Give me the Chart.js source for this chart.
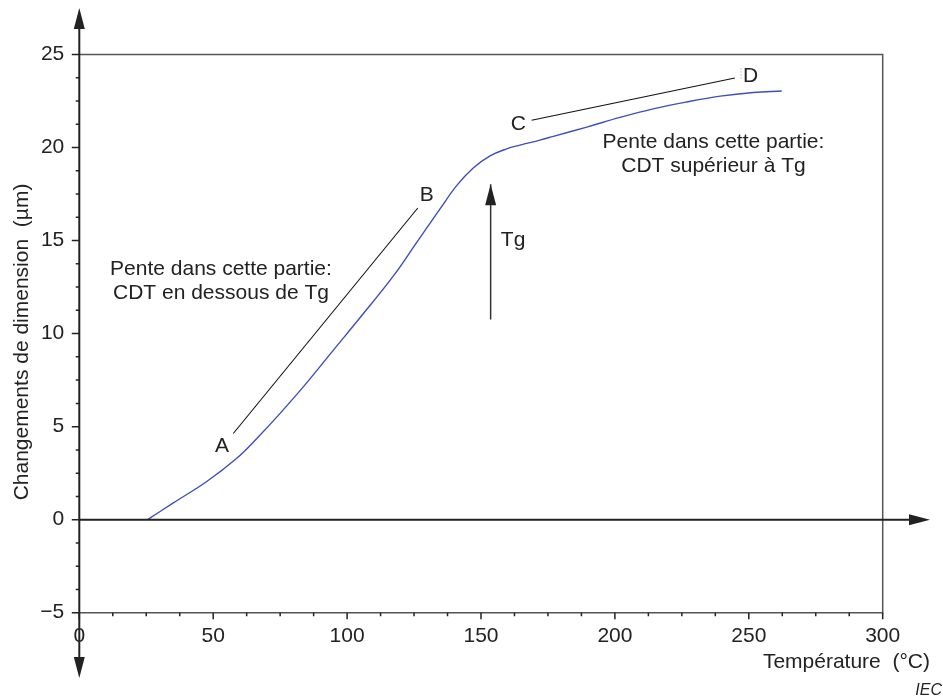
<!DOCTYPE html>
<html>
<head>
<meta charset="utf-8">
<script src="https://cdn.jsdelivr.net/npm/chart.js@4.4.1/dist/chart.umd.min.js"></script>
<style>
  html, body { margin: 0; padding: 0; background: #fff; }
  #zone { width: 943px; height: 698px; }
</style>
</head>
<body>
<div id="zone"><canvas id="graphique" width="943" height="698"></canvas></div>
<script>
// courbe dilatométrique
const temperatures = [25.5, 35.1, 47.6, 58.8, 66.2, 74.9, 84.9, 94.8, 104.8, 117.3, 126.0, 134.7, 140.9, 147.1, 153.4, 159.6, 164.6, 172.0, 177.0, 189.5, 201.9, 214.3, 226.8, 239.3, 251.7, 262.3];
const changements = [0, 0.9, 2.05, 3.3, 4.35, 5.7, 7.35, 9.1, 10.85, 13.1, 14.9, 16.7, 17.95, 18.9, 19.55, 19.93, 20.13, 20.4, 20.6, 21.1, 21.62, 22.08, 22.45, 22.76, 22.96, 23.04];

// tangentes A-B et C-D
const penteABx = [57.5, 126.4];
const penteABy = [4.63, 16.75];
const penteCDx = [168.9, 244.8];
const penteCDy = [21.47, 23.74];

// flèche Tg
const flecheTgX = [153.6, 153.6];
const flecheTgY = [10.76, 18.03];

const xTickValeurs = [0, 50, 100, 150, 200, 250, 300];
const xTickLabels = ['0', '50', '100', '150', '200', '250', '300'];
const yTickValeurs = [-5, 0, 5, 10, 15, 20, 25];
const yTickLabels = ['\u22125', '0', '5', '10', '15', '20', '25'];

const police = '"Liberation Sans", Arial, sans-serif';
const encre = '#222';

const points = (xs, ys) => xs.map((v, i) => ({ x: v, y: ys[i] }));

function fleche(ctx, px, py, dx, dy) {
  // triangle plein, pointe en (px, py), direction (dx, dy)
  const lg = 21, dl = 5.5;
  const bx = px - dx * lg, by = py - dy * lg;
  ctx.beginPath();
  ctx.moveTo(px, py);
  ctx.lineTo(bx - dy * dl, by + dx * dl);
  ctx.lineTo(bx + dy * dl, by - dx * dl);
  ctx.closePath();
  ctx.fill();
}

const habillage = {
  id: 'habillage',
  afterDraw(chart) {
    const { ctx, chartArea: a, scales: { x, y } } = chart;
    const y0 = y.getPixelForValue(0);
    ctx.save();

    // cadre
    ctx.strokeStyle = '#555';
    ctx.lineWidth = 1.5;
    ctx.beginPath();
    ctx.moveTo(a.left, a.top);
    ctx.lineTo(a.right, a.top);
    ctx.lineTo(a.right, a.bottom);
    ctx.lineTo(a.left, a.bottom);
    ctx.stroke();

    // axes avec flèches
    ctx.strokeStyle = encre;
    ctx.fillStyle = encre;
    ctx.lineWidth = 2;
    ctx.beginPath();
    ctx.moveTo(a.left, 26);
    ctx.lineTo(a.left, 660);
    ctx.moveTo(a.left, y0);
    ctx.lineTo(912, y0);
    ctx.stroke();
    fleche(ctx, a.left, 8, 0, -1);
    fleche(ctx, a.left, 678, 0, 1);
    fleche(ctx, 930, y0, 1, 0);

    // graduations
    ctx.lineWidth = 1.5;
    ctx.beginPath();
    for (let v = -5; v <= 25.001; v += 1.25) {
      const p = y.getPixelForValue(v);
      const maj = Math.abs(v % 5) < 1e-6;
      ctx.moveTo(a.left, p);
      ctx.lineTo(a.left - (maj ? 7.5 : 3.5), p);
    }
    for (let v = 0; v <= 300.001; v += 12.5) {
      const p = x.getPixelForValue(v);
      const maj = Math.abs(v % 50) < 1e-6;
      ctx.moveTo(p, a.bottom);
      ctx.lineTo(p, a.bottom + (maj ? 6.5 : 3.5));
    }
    ctx.stroke();

    // pointe de la flèche Tg
    fleche(ctx, x.getPixelForValue(flecheTgX[1]), y.getPixelForValue(flecheTgY[1]), 0, -1);

    // petit pointillé près de D
    ctx.strokeStyle = '#999';
    ctx.lineWidth = 1;
    ctx.setLineDash([1, 2]);
    ctx.beginPath();
    ctx.moveTo(x.getPixelForValue(247.1), y.getPixelForValue(24.25));
    ctx.lineTo(x.getPixelForValue(247.1), y.getPixelForValue(23.6));
    ctx.stroke();
    ctx.setLineDash([]);

    // textes
    ctx.fillStyle = encre;
    ctx.font = '21px ' + police;
    ctx.textBaseline = 'middle';
    const ecrire = (txt, vx, vy, align) => {
      ctx.textAlign = align || 'center';
      ctx.fillText(txt, x.getPixelForValue(vx), y.getPixelForValue(vy));
    };
    ecrire('A', 53.3, 3.95);
    ecrire('B', 129.7, 17.44);
    ecrire('C', 163.9, 21.25);
    ecrire('D', 250.7, 23.84);
    ecrire('Tg', 157.4, 15.02, 'left');
    ecrire('Pente dans cette partie:', 52.9, 13.46);
    ecrire('CDT en dessous de Tg', 52.9, 12.17);
    ecrire('Pente dans cette partie:', 236.8, 20.28);
    ecrire('CDT supérieur à Tg', 236.8, 19.0);

    ctx.textAlign = 'right';
    ctx.fillText('Température  (°C)', 930, 662);

    ctx.save();
    ctx.translate(22.5, 342);
    ctx.rotate(-Math.PI / 2);
    ctx.textAlign = 'center';
    ctx.fillText('Changements de dimension  (µm)', 0, 0);
    ctx.restore();

    ctx.font = 'italic 16px ' + police;
    ctx.textAlign = 'right';
    ctx.fillText('IEC', 942, 691);

    ctx.restore();
  }
};

new Chart(document.getElementById('graphique'), {
  type: 'line',
  data: {
    datasets: [
      {
        data: points(temperatures, changements),
        borderColor: '#3f4fb8',
        borderWidth: 1.4,
        tension: 0.4
      },
      { data: points(penteABx, penteABy), borderColor: '#111', borderWidth: 1.1 },
      { data: points(penteCDx, penteCDy), borderColor: '#111', borderWidth: 1.1 },
      { data: points(flecheTgX, flecheTgY), borderColor: '#333', borderWidth: 1.5 }
    ]
  },
  options: {
    responsive: false,
    animation: false,
    layout: { padding: { left: 0, top: 54.5, right: 60.3, bottom: 0 } },
    elements: { point: { radius: 0, hoverRadius: 0 } },
    plugins: { legend: { display: false }, tooltip: { enabled: false } },
    scales: {
      x: {
        type: 'linear',
        min: 0,
        max: 300,
        grid: { display: false, drawTicks: false },
        border: { display: false },
        ticks: {
          stepSize: 50,
          padding: 11,
          maxRotation: 0,
          autoSkip: false,
          color: encre,
          font: { family: police, size: 21 },
          callback: (v) => xTickLabels[xTickValeurs.indexOf(v)]
        },
        afterFit: (s) => { s.height = 85.3; }
      },
      y: {
        min: -5,
        max: 25,
        grid: { display: false, drawTicks: false },
        border: { display: false },
        ticks: {
          stepSize: 5,
          padding: 15,
          color: encre,
          font: { family: police, size: 21 },
          callback: (v) => yTickLabels[yTickValeurs.indexOf(v)]
        },
        afterFit: (s) => { s.width = 79.3; }
      }
    }
  },
  plugins: [habillage]
});
</script>
</body>
</html>
